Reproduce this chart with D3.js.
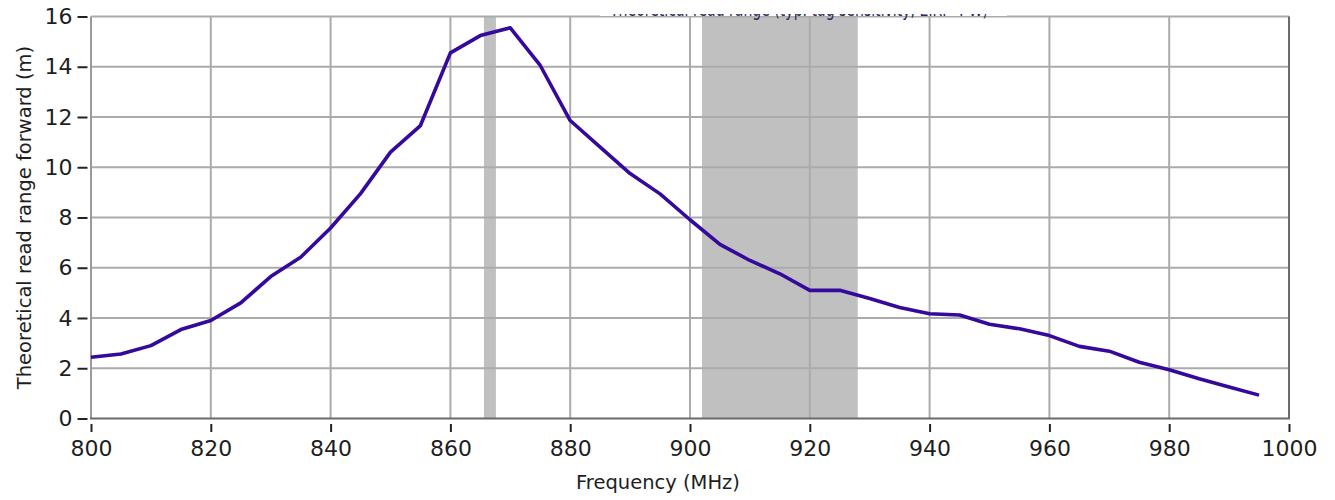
<!DOCTYPE html>
<html>
<head>
<meta charset="utf-8">
<script src="https://cdn.jsdelivr.net/npm/d3@7"></script>
<style>
  html, body { margin: 0; padding: 0; background: #fff; }
  svg { display: block; }
  text { font-family: "DejaVu Sans", Verdana, sans-serif; }
</style>
</head>
<body>
<svg id="chart" width="1335" height="500"></svg>
<script>
// ---- data ----
const frequencies = [800, 805, 810, 815, 820, 825, 830, 835, 840, 845, 850, 855, 860, 865, 870, 875,
  880, 885, 890, 895, 900, 905, 910, 915, 920, 925, 930, 935, 940, 945, 950, 955, 960, 965, 970,
  975, 980, 985, 990, 995];
const readRange = [2.44, 2.57, 2.9, 3.54, 3.9, 4.6, 5.65, 6.42, 7.58, 8.95, 10.6, 11.66, 14.55, 15.24, 15.55, 14.05,
  11.86, 10.8, 9.75, 8.94, 7.91, 6.93, 6.29, 5.76, 5.1, 5.1, 4.78, 4.42, 4.17, 4.12, 3.75, 3.57, 3.3, 2.87, 2.68,
  2.24, 1.94, 1.58, 1.25, 0.93];
const bandStarts = [865.6, 902];
const bandEnds = [867.6, 928];
const xTicks = [800, 820, 840, 860, 880, 900, 920, 940, 960, 980, 1000];
const yTicks = [0, 2, 4, 6, 8, 10, 12, 14, 16];
const xTitle = "Frequency (MHz)";
const yTitle = "Theoretical read range forward (m)";
const chartTitle = "Theoretical read range (typ. tag sensitivity, EIRP 4 W)";

// ---- layout ----
const svg = d3.select("#chart");
const x = d3.scaleLinear().domain([800, 1000]).range([91, 1289]);
const y = d3.scaleLinear().domain([0, 16]).range([418.5, 16.5]);

// bands
const bands = bandStarts.map((s, i) => ({ s, e: bandEnds[i] }));
svg.append("g").selectAll("rect").data(bands).join("rect")
  .attr("x", d => x(d.s)).attr("width", d => x(d.e) - x(d.s))
  .attr("y", y(16)).attr("height", y(0) - y(16))
  .attr("fill", "#c0c0c0");

// grid
const grid = svg.append("g").attr("stroke", "#ababab").attr("stroke-width", 2);
grid.selectAll("line.v").data(xTicks.slice(1, -1)).join("line").attr("class", "v")
  .attr("x1", d => x(d)).attr("x2", d => x(d)).attr("y1", y(16)).attr("y2", y(0));
grid.selectAll("line.h").data(yTicks.slice(1)).join("line").attr("class", "h")
  .attr("x1", x(800)).attr("x2", x(1000)).attr("y1", d => y(d)).attr("y2", d => y(d));

// frame
svg.append("line").attr("x1", x(800)).attr("x2", x(800)).attr("y1", y(16)).attr("y2", y(0))
  .attr("stroke", "#9a9a9a").attr("stroke-width", 2);
svg.append("line").attr("x1", x(1000)).attr("x2", x(1000)).attr("y1", y(16)).attr("y2", y(0))
  .attr("stroke", "#6a6a6a").attr("stroke-width", 2);
svg.append("line").attr("x1", x(800) - 1).attr("x2", x(1000) + 1).attr("y1", y(0)).attr("y2", y(0))
  .attr("stroke", "#6a6a6a").attr("stroke-width", 2);

// line
const line = d3.line().x((d, i) => x(frequencies[i])).y(d => y(d));
svg.append("path").datum(readRange)
  .attr("d", line).attr("fill", "none")
  .attr("stroke", "#35099c").attr("stroke-width", 3.6)
  .attr("stroke-linejoin", "round").attr("stroke-linecap", "butt");

// x axis
const xAxis = svg.append("g").attr("transform", `translate(0,${y(0) + 5.5})`)
  .call(d3.axisBottom(x).tickValues(xTicks).tickSize(8).tickPadding(8).tickFormat(d3.format("d")));
xAxis.select(".domain").remove();
xAxis.selectAll(".tick line").attr("stroke", "#222").attr("stroke-width", 2);
xAxis.selectAll("text").attr("font-size", 22).attr("fill", "#1e1e1e")
  .attr("font-family", "DejaVu Sans, Verdana, sans-serif");

// y axis
const yAxis = svg.append("g").attr("transform", `translate(87.5,0)`)
  .call(d3.axisLeft(y).tickValues(yTicks).tickSize(10).tickPadding(5).tickFormat(d3.format("d")));
yAxis.select(".domain").remove();
yAxis.selectAll(".tick line").attr("stroke", "#222").attr("stroke-width", 2);
yAxis.selectAll("text").attr("font-size", 22).attr("fill", "#1e1e1e")
  .attr("font-family", "DejaVu Sans, Verdana, sans-serif");

// axis titles
svg.append("text").attr("x", 658).attr("y", 489).attr("text-anchor", "middle")
  .attr("font-size", 19.5).attr("fill", "#1e1e1e").text(xTitle);
svg.append("text").attr("transform", `translate(31,${(y(0) + y(16)) / 2}) rotate(-90)`)
  .attr("text-anchor", "middle").attr("font-size", 19.5).attr("fill", "#1e1e1e").text(yTitle);

// clipped title sliver (the reference shows only the bottom edge of the title)
const defs = svg.append("defs");
defs.append("clipPath").attr("id", "titleClip").append("rect")
  .attr("x", 600).attr("y", 14).attr("width", 407).attr("height", 6);
svg.append("rect").attr("x", 600).attr("y", 0).attr("width", 407).attr("height", 16)
  .attr("fill", "#fff");
svg.append("text").attr("clip-path", "url(#titleClip)")
  .attr("x", 610).attr("y", 16).attr("textLength", 378).attr("lengthAdjust", "spacingAndGlyphs")
  .attr("font-size", 19).attr("fill", "#2a2a5a").text(chartTitle);
</script>
</body>
</html>
